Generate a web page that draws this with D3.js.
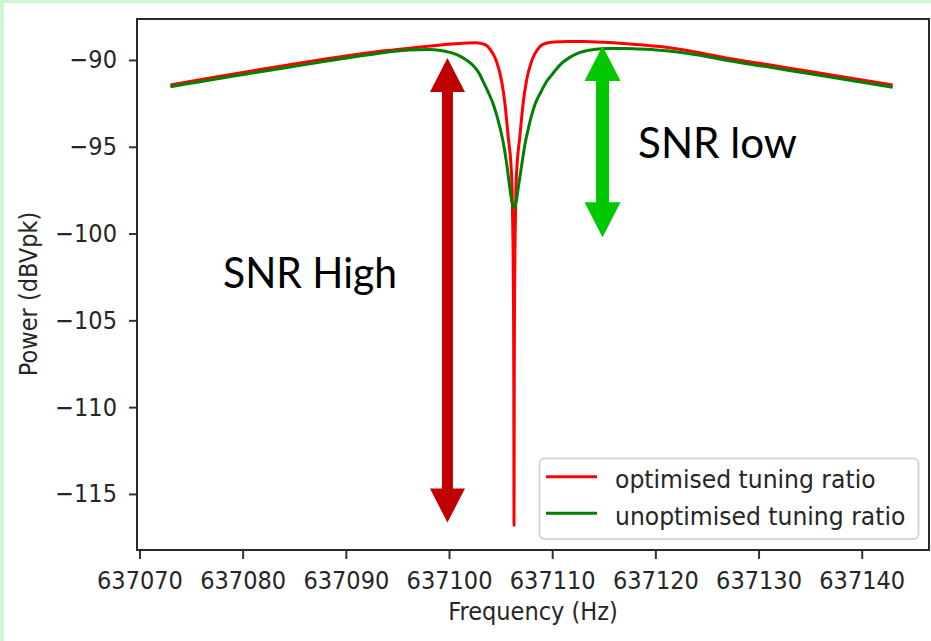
<!DOCTYPE html>
<html>
<head>
<meta charset="utf-8">
<script src="https://cdn.jsdelivr.net/npm/d3@7/dist/d3.min.js"></script>
<style>
  html, body { margin: 0; padding: 0; background: #ffffff; }
  svg { display: block; }
</style>
</head>
<body>
<svg id="chart" width="931" height="641"></svg>
<script>
// Measured spectrum around the notch, optimised tuning ratio
const redFreq = [
  637073.0, 637076.0, 637079.0, 637082.0, 637085.0, 637088.0, 637091.0, 637094.0,
  637097.0, 637099.0, 637100.5, 637101.8, 637102.6, 637103.2, 637103.75, 637104.0,
  637104.3, 637104.6, 637105.1, 637105.43, 637105.75, 637106.0, 637106.12, 637106.2,
  637106.25, 637106.28,
  637106.30,
  637106.32, 637106.35, 637106.40, 637106.48, 637106.6, 637106.85, 637107.17, 637107.5,
  637108.0, 637108.3, 637108.6, 637108.85, 637109.4, 637110.2, 637111.5, 637113.0,
  637115.0, 637117.5, 637120.5, 637124.0, 637127.0, 637131.0, 637135.0, 637139.0,
  637143.0
];
const redPower = [
  -91.44, -91.13, -90.82, -90.52, -90.23, -89.95, -89.69, -89.46,
  -89.27, -89.15, -89.07, -89.02, -89.01, -89.06, -89.22, -89.41,
  -89.68, -90.08, -91.23, -92.57, -94.50, -96.00, -97.60, -100.5,
  -104.0, -109.0,
  -116.8,
  -109.0, -104.0, -100.5, -97.60, -96.00, -94.50, -92.57, -91.23,
  -90.08, -89.66, -89.39, -89.20, -89.04, -88.97, -88.94, -88.94,
  -88.98, -89.08, -89.23, -89.55, -89.90, -90.28, -90.67, -91.05,
  -91.44
];

// Measured spectrum around the notch, unoptimised tuning ratio
const greenFreq = [
  637073.0, 637076.0, 637079.0, 637082.0, 637085.0, 637088.0, 637091.0, 637094.0,
  637096.2, 637098.0, 637099.2, 637100.2, 637101.1, 637101.8, 637102.4, 637102.9,
  637103.3, 637103.8, 637104.3, 637104.95, 637105.3, 637105.6, 637105.9, 637106.1,
  637106.3,
  637106.5, 637106.7, 637107.05, 637107.35, 637107.7, 637108.33, 637108.9, 637109.47,
  637110.1, 637110.76, 637111.7, 637112.7, 637114.0, 637115.5, 637117.0, 637118.5,
  637120.5, 637124.0, 637127.0, 637131.0, 637135.0, 637139.0, 637143.0
];
const greenPower = [
  -91.54, -91.24, -90.94, -90.65, -90.37, -90.08, -89.80, -89.55,
  -89.42, -89.40, -89.45, -89.58, -89.79, -90.05, -90.36, -90.75,
  -91.23, -91.85, -92.57, -93.92, -94.90, -96.03, -97.40, -98.20,
  -98.52,
  -98.20, -97.40, -96.03, -94.90, -93.92, -92.57, -91.85, -91.23,
  -90.75, -90.28, -89.85, -89.56, -89.40, -89.34, -89.34, -89.37,
  -89.44, -89.70, -90.03, -90.41, -90.80, -91.18, -91.57
];

const seriesNames = ["optimised tuning ratio", "unoptimised tuning ratio"];
const xTickValues = [637070, 637080, 637090, 637100, 637110, 637120, 637130, 637140];
const yTickValues = [-90, -95, -100, -105, -110, -115];

// Double-headed arrows marking the notch depth (frequency, top dB, bottom dB)
const snrHighArrow = [637099.85, -89.88, -116.65];
const snrLowArrow = [637114.88, -89.19, -100.21];
const annotationLabels = ["SNR High", "SNR low"];

// ---- layout ----
const W = 931, H = 641;
const plot = { left: 137, right: 929, top: 19, bottom: 550 };
const tickFont = "'DejaVu Sans', sans-serif";
const textSquash = 0.9;

const svg = d3.select("#chart");

// page frame
svg.append("rect").attr("x", 0).attr("y", 0).attr("width", W).attr("height", H).attr("fill", "#cff5d4");
svg.append("rect").attr("x", 4).attr("y", 3).attr("width", W - 4).attr("height", H - 3).attr("fill", "#ffffff");

const x = d3.scaleLinear().domain([637069.76, 637146.52]).range([plot.left, plot.right]);
const y = d3.scaleLinear().domain([-118.23, -87.64]).range([plot.bottom, plot.top]);

function squash(sel, factor) {
  sel.each(function () {
    const len = this.getComputedTextLength();
    d3.select(this).attr("textLength", len * factor).attr("lengthAdjust", "spacingAndGlyphs");
  });
}

// x axis
const xAxis = svg.append("g")
  .attr("transform", `translate(0,${plot.bottom})`)
  .call(d3.axisBottom(x).tickValues(xTickValues).tickFormat(d3.format("d"))
    .tickSize(9).tickPadding(12).tickSizeOuter(0));
xAxis.select(".domain").remove();
xAxis.selectAll(".tick line").attr("stroke", "#333").attr("stroke-width", 2);
xAxis.selectAll(".tick text").attr("font-family", tickFont).attr("font-size", 25).attr("fill", "#262626");

// y axis
const yAxis = svg.append("g")
  .attr("transform", `translate(${plot.left},0)`)
  .call(d3.axisLeft(y).tickValues(yTickValues).tickFormat(d => "\u2212" + Math.abs(d))
    .tickSize(8).tickPadding(12).tickSizeOuter(0));
yAxis.select(".domain").remove();
yAxis.selectAll(".tick line").attr("stroke", "#333").attr("stroke-width", 2);
yAxis.selectAll(".tick text").attr("font-family", tickFont).attr("font-size", 25).attr("fill", "#262626");

// axis titles
svg.append("text").attr("class", "axis-title")
  .attr("x", (plot.left + plot.right) / 2).attr("y", 620)
  .attr("text-anchor", "middle").attr("font-family", tickFont).attr("font-size", 25).attr("fill", "#262626")
  .text("Frequency (Hz)");
svg.append("text").attr("class", "axis-title")
  .attr("transform", "translate(37,294) rotate(-90)")
  .attr("text-anchor", "middle").attr("font-family", tickFont).attr("font-size", 25).attr("fill", "#262626")
  .text("Power (dBVpk)");

squash(svg.selectAll(".tick text"), textSquash);
squash(svg.selectAll(".axis-title"), textSquash);

// curves
const line = d3.line().x(d => x(d[0])).y(d => y(d[1])).curve(d3.curveMonotoneX);
const redData = redFreq.map((f, i) => [f, redPower[i]]);
const greenData = greenFreq.map((f, i) => [f, greenPower[i]]);
const colors = ["#ff0000", "#008000"];

svg.append("path").datum(redData).attr("d", line)
  .attr("fill", "none").attr("stroke", colors[0]).attr("stroke-width", 3).attr("stroke-linejoin", "round");
svg.append("path").datum(greenData).attr("d", line)
  .attr("fill", "none").attr("stroke", colors[1]).attr("stroke-width", 3).attr("stroke-linejoin", "round");

// axes frame
svg.append("rect")
  .attr("x", plot.left).attr("y", plot.top)
  .attr("width", plot.right - plot.left).attr("height", plot.bottom - plot.top)
  .attr("fill", "none").attr("stroke", "#2a2a2a").attr("stroke-width", 2);

// legend
const lg = svg.append("g");
lg.append("rect").attr("x", 539.5).attr("y", 458.5).attr("width", 379).attr("height", 80.5)
  .attr("rx", 5).attr("fill", "#ffffff").attr("fill-opacity", 0.85)
  .attr("stroke", "#d6d6d6").attr("stroke-width", 2);
seriesNames.forEach((name, i) => {
  const ly = 476.7 + i * 36.6;
  lg.append("line").attr("x1", 546).attr("x2", 597).attr("y1", ly).attr("y2", ly)
    .attr("stroke", colors[i]).attr("stroke-width", 3);
  lg.append("text").attr("class", "legend-text").attr("x", 615).attr("y", ly + 11.5)
    .attr("font-family", tickFont).attr("font-size", 25).attr("fill", "#262626").text(name);
});
squash(lg.selectAll(".legend-text"), 0.94);

// arrows
function doubleArrow(spec, color, shaftHalf, headHalf, headLen) {
  const cx = x(spec[0]), yt = y(spec[1]), yb = y(spec[2]);
  const p = d3.path();
  p.moveTo(cx, yt);
  p.lineTo(cx + headHalf, yt + headLen);
  p.lineTo(cx + shaftHalf, yt + headLen);
  p.lineTo(cx + shaftHalf, yb - headLen);
  p.lineTo(cx + headHalf, yb - headLen);
  p.lineTo(cx, yb);
  p.lineTo(cx - headHalf, yb - headLen);
  p.lineTo(cx - shaftHalf, yb - headLen);
  p.lineTo(cx - shaftHalf, yt + headLen);
  p.lineTo(cx - headHalf, yt + headLen);
  p.closePath();
  svg.append("path").attr("d", p.toString()).attr("fill", color);
}
doubleArrow(snrHighArrow, "#c00000", 5.5, 17.5, 34);
doubleArrow(snrLowArrow, "#00c800", 6.5, 18, 35);

// annotation text
const annFont = "Lato, 'Open Sans', sans-serif";
svg.append("text").attr("x", 223).attr("y", 287.5)
  .attr("font-family", annFont).attr("font-size", 42).attr("fill", "#000")
  .attr("textLength", 174).attr("lengthAdjust", "spacingAndGlyphs")
  .text(annotationLabels[0]);
svg.append("text").attr("x", 638).attr("y", 158)
  .attr("font-family", annFont).attr("font-size", 42).attr("fill", "#000")
  .attr("textLength", 159).attr("lengthAdjust", "spacingAndGlyphs")
  .text(annotationLabels[1]);
</script>
</body>
</html>
